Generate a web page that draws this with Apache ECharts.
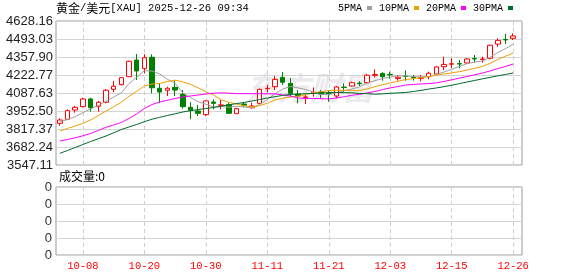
<!DOCTYPE html>
<html><head><meta charset="utf-8">
<script src="https://cdn.jsdelivr.net/npm/echarts@6/dist/echarts.min.js"></script>
<style>html,body{margin:0;padding:0;background:#fff}#c{width:578px;height:276px}</style>
</head><body><div id="c"></div>
<script>
const dates = ['10-03','10-06','10-07','10-08','10-09','10-10','10-13','10-14','10-15','10-16','10-17','10-20','10-21','10-22','10-23','10-24','10-27','10-28','10-29','10-30','10-31','11-03','11-04','11-05','11-06','11-07','11-10','11-11','11-12','11-13','11-14','11-17','11-18','11-19','11-20','11-21','11-24','11-25','11-26','11-27','11-28','12-01','12-02','12-03','12-04','12-05','12-08','12-09','12-10','12-11','12-12','12-15','12-16','12-17','12-18','12-19','12-22','12-23','12-24','12-26'];
const opens  = [3860,3890,3960,3985,4043,3988,4018,4115,4150,4210,4335,4270,4356,4123,4108,4130,4078,3980,3953,3925,4020,3995,4000,3932,4005,3977,4010,4120,4135,4205,4160,4078,4055,4085,4095,4087,4065,4132,4140,4162,4165,4220,4235,4227,4197,4215,4205,4198,4210,4230,4285,4304,4308,4313,4347,4340,4348,4455,4490,4498];
const closes = [3885,3955,3980,4043,3977,4018,4108,4138,4203,4326,4253,4353,4127,4095,4123,4110,3985,3958,3935,4028,4010,3998,3935,3970,3995,3990,4115,4123,4190,4168,4085,4065,4058,4093,4080,4084,4133,4129,4165,4158,4221,4227,4210,4224,4206,4212,4202,4202,4236,4283,4302,4307,4305,4343,4343,4343,4446,4483,4486,4516];
const lows   = [3842,3885,3940,3980,3947,3947,4010,4093,4145,4208,4185,4236,4085,4015,4065,4065,3970,3890,3915,3915,3965,3965,3932,3930,3980,3970,4005,4093,4110,4148,4060,4010,4005,4060,4048,4022,4048,4097,4135,4140,4160,4205,4180,4195,4180,4180,4180,4175,4190,4222,4260,4273,4273,4307,4315,4315,4340,4435,4455,4485];
const highs  = [3898,3965,3990,4052,4052,4028,4118,4178,4208,4330,4380,4378,4378,4160,4135,4180,4110,4018,3998,4030,4040,4035,4015,3977,4018,4015,4120,4148,4215,4245,4200,4110,4073,4130,4110,4103,4140,4160,4173,4176,4230,4265,4243,4248,4223,4258,4223,4223,4248,4290,4360,4348,4335,4350,4373,4360,4450,4498,4531,4536];
const ma5  = [3872,3888,3910,3940,3968.0,3994.6,4025.2,4056.8,4088.8,4158.6,4205.6,4254.6,4252.4,4230.8,4190.2,4161.6,4088.0,4054.2,4022.2,4003.2,3983.2,3985.8,3981.2,3988.2,3981.6,3977.6,4001.0,4038.6,4082.6,4117.2,4136.2,4126.2,4113.2,4093.8,4076.2,4076.0,4089.6,4103.8,4118.2,4133.8,4161.2,4180.0,4196.2,4208.0,4217.6,4215.8,4210.8,4209.2,4211.6,4227.0,4245.0,4266.0,4286.6,4308.0,4320.0,4328.2,4356.0,4391.6,4420.2,4454.8];
const ma10 = [3802,3822,3840,3860,3885,3918,3952,3984,4018,4063.3,4100.1,4139.9,4154.6,4159.8,4174.4,4183.6,4171.3,4153.3,4126.5,4096.7,4072.4,4036.9,4017.7,4005.2,3992.4,3980.4,3993.4,4009.9,4035.4,4049.4,4056.9,4063.6,4075.9,4088.2,4096.7,4106.1,4107.9,4108.5,4106.0,4105.0,4118.6,4134.8,4150.0,4163.1,4175.7,4188.5,4195.4,4202.7,4209.8,4222.3,4230.4,4238.4,4247.9,4259.8,4273.5,4286.6,4311.0,4339.1,4364.1,4387.4];
const ma20 = [3727.3,3738.5,3751.3,3766.3,3783.6,3806.1,3830.1,3847.4,3866.2,3896.2,3930.0,3971.3,4001.3,4020.1,4032.8,4046.3,4057.6,4065.1,4072.6,4080.0,4086.3,4088.4,4086.2,4082.5,4083.4,4082.0,4082.4,4081.6,4081.0,4073.1,4064.7,4050.3,4046.8,4046.7,4044.6,4043.3,4050.7,4059.2,4070.7,4077.2,4087.8,4099.2,4113.0,4125.7,4136.2,4147.3,4151.7,4155.6,4157.9,4163.7,4174.5,4186.6,4199.0,4211.5,4224.6,4237.6,4253.2,4270.9,4287.0,4304.9];
const ma30 = [3635.0,3656.0,3678.5,3701.0,3723.5,3743.8,3764.8,3788.8,3813.6,3832.4,3851.2,3872.2,3890.9,3905.2,3918.7,3931.5,3945.0,3954.8,3963.8,3971.3,3978.8,3988.5,3999.0,4008.1,4016.3,4027.6,4038.8,4050.1,4059.9,4069.8,4076.5,4080.1,4082.7,4084.4,4087.8,4090.0,4090.9,4090.6,4089.3,4083.7,4082.6,4078.4,4081.2,4085.5,4088.3,4091.7,4098.9,4107.0,4117.1,4125.6,4135.3,4145.6,4157.9,4170.4,4182.0,4193.7,4204.8,4216.8,4226.6,4238.2];
const priceTicks = ['3547.11','3682.24','3817.37','3952.50','4087.63','4222.77','4357.90','4493.03','4628.16'];
const volTicks = ['0','0','0','0','0'];
const labelDates = ['10-08','10-20','10-30','11-11','11-21','12-03','12-15','12-26'];
const maNames = ['5PMA','10PMA','20PMA','30PMA'];
const maColors = ['#a0a0a0','#f0a000','#ff00ff','#006a2c'];
const titleCn1 = '黄金', titleCn2 = '美元', titleRest = '[XAU] 2025-12-26 09:34';
const volText = '成交量:0';

const candleData = dates.map((d, i) => [opens[i], closes[i], lows[i], highs[i]]);
const isLabel = (idx) => labelDates.indexOf(dates[idx]) >= 0;
const mono = '"Liberation Mono", monospace';
const cjk = '"Noto Sans CJK SC", sans-serif';
const sans = '"Liberation Sans", Arial, sans-serif';
const gridLine = '#d4d4d4';

const chart = echarts.init(document.getElementById('c'), null, {renderer: 'canvas'});
const maSeries = [ma5, ma10, ma20, ma30].map((arr, k) => ({
  name: maNames[k], type: 'line', data: arr, xAxisIndex: 0, yAxisIndex: 0,
  showSymbol: false, symbol: 'none', silent: true, z: 3,
  lineStyle: {color: maColors[k], width: 1}, itemStyle: {color: maColors[k]}
}));
chart.setOption({
  animation: false,
  backgroundColor: '#fff',
  title: {
    text: '{c|' + titleCn1 + '}{a|/}{c|' + titleCn2 + '}{a|' + titleRest + '}',
    left: 56, top: 1, padding: 0,
    textStyle: {fontWeight: 'normal', rich: {
      c: {fontFamily: cjk, fontSize: 12, fontWeight: 'normal', color: '#000', lineHeight: 14},
      a: {fontFamily: mono, fontSize: 10.5, fontWeight: 'normal', color: '#000', lineHeight: 14}
    }}
  },
  legend: {
    data: maNames, left: 338, top: 3, padding: 0, align: 'right', icon: 'rect',
    itemWidth: 5, itemHeight: 4, itemGap: 7,
    textStyle: {fontFamily: mono, fontSize: 10, color: '#000'}
  },
  graphic: [
    {type: 'text', left: 246, top: 72, z: 0, silent: true,
     style: {text: '东方财富', font: 'italic bold 32px "Noto Sans CJK SC"', fill: '#ebebef'}},
    {type: 'text', left: 59, top: 170, silent: true,
     style: {text: volText, font: '12px "Noto Sans CJK SC"', fill: '#000'}}
  ],
  grid: [
    {left: 56, top: 21, width: 461, height: 144},
    {left: 56, top: 21, width: 466, height: 144, show: true, borderColor: '#9a9a9a', borderWidth: 1, backgroundColor: 'transparent'},
    {left: 56, top: 187, width: 461, height: 68},
    {left: 56, top: 187, width: 466, height: 68, show: true, borderColor: '#9a9a9a', borderWidth: 1, backgroundColor: 'transparent'}
  ],
  xAxis: [
    {gridIndex: 0, type: 'category', data: dates, boundaryGap: true,
     axisLine: {show: false}, axisTick: {show: false}, axisLabel: {show: false},
     splitLine: {show: true, alignWithLabel: true, interval: (i) => isLabel(i), lineStyle: {color: '#cfcfcf', type: [4, 3]}}},
    {gridIndex: 1, type: 'value', min: 0, max: 1, show: false},
    {gridIndex: 2, type: 'category', data: dates, boundaryGap: true,
     axisLine: {show: false}, axisTick: {show: false},
     axisLabel: {show: true, interval: (i) => isLabel(i), color: '#ff0000', fontFamily: mono, fontSize: 10.5, margin: 6},
     splitLine: {show: true, alignWithLabel: true, interval: (i) => isLabel(i), lineStyle: {color: '#cfcfcf', type: [4, 3]}}},
    {gridIndex: 3, type: 'value', min: 0, max: 1, show: false}
  ],
  yAxis: [
    {gridIndex: 0, type: 'value', min: 3547.11, max: 4628.16, show: false},
    {gridIndex: 1, type: 'value', min: 0, max: 8, interval: 1,
     axisLine: {show: false}, axisTick: {show: false},
     axisLabel: {formatter: (v) => priceTicks[Math.round(v)], color: '#222', fontFamily: sans, fontSize: 13, margin: 3},
     splitLine: {show: true, lineStyle: {color: gridLine, width: 1}}},
    {gridIndex: 2, type: 'value', min: 0, max: 1, show: false},
    {gridIndex: 3, type: 'value', min: 0, max: 4, interval: 1,
     axisLine: {show: false}, axisTick: {show: false},
     axisLabel: {formatter: (v) => volTicks[Math.round(v)], color: '#333', fontFamily: sans, fontSize: 13, margin: 4},
     splitLine: {show: true, lineStyle: {color: gridLine, width: 1}}}
  ],
  series: [
    {name: 'K', type: 'candlestick', data: candleData, xAxisIndex: 0, yAxisIndex: 0,
     barWidth: 5, silent: true, z: 2,
     itemStyle: {color: '#ffffff', color0: '#008000', borderColor: '#ff0000', borderColor0: '#008000', borderWidth: 1}}
  ].concat(maSeries)
});
</script></body></html>
